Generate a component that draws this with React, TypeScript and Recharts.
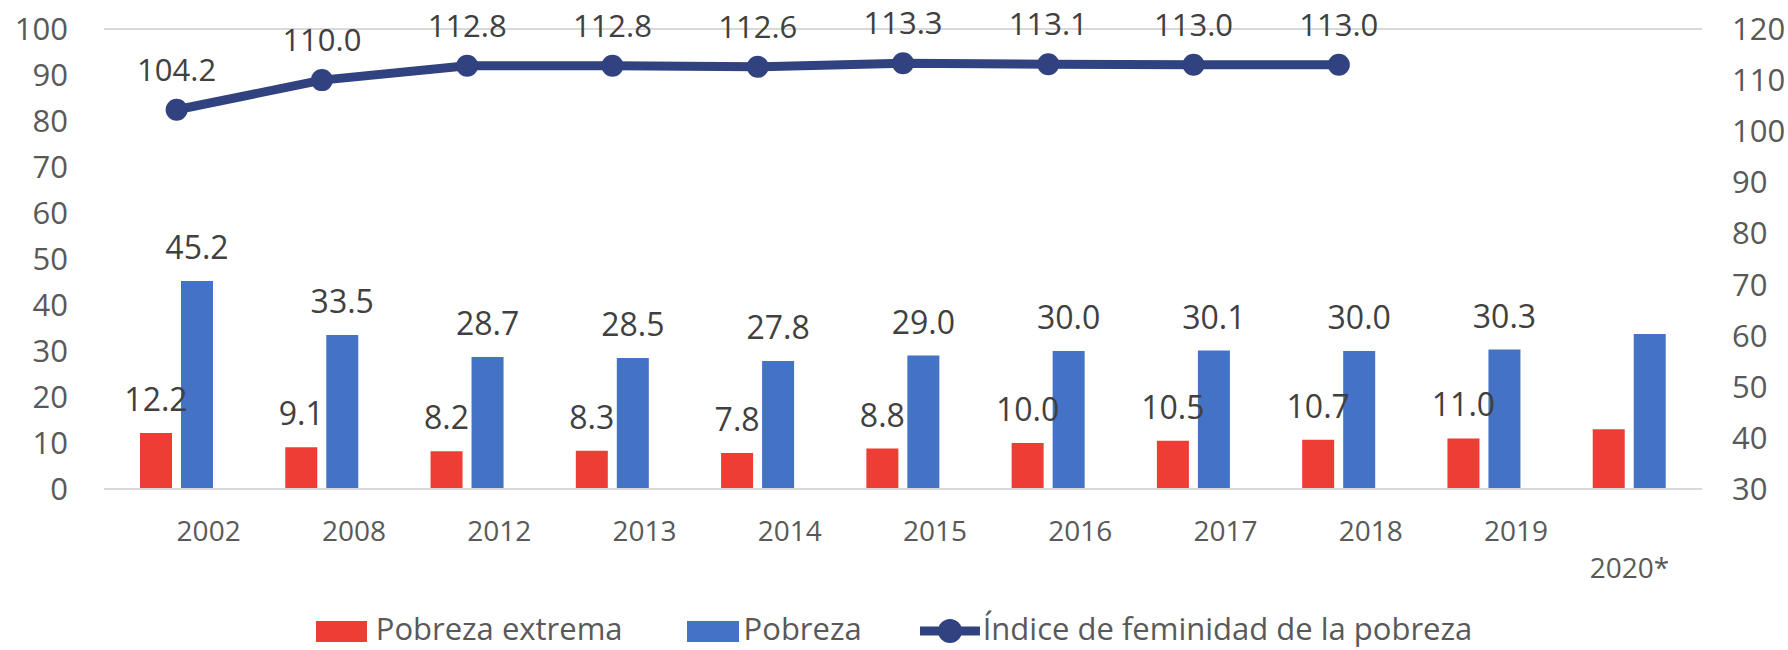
import React from 'react';
import {
  ComposedChart,
  Bar,
  Line,
  XAxis,
  YAxis,
  CartesianGrid,
  Legend,
  LabelList,
} from 'recharts';

const years = ['2002', '2008', '2012', '2013', '2014', '2015', '2016', '2017', '2018', '2019', '2020*'];
const pobrezaExtrema = [12.2, 9.1, 8.2, 8.3, 7.8, 8.8, 10.0, 10.5, 10.7, 11.0, 13.0];
const pobreza = [45.2, 33.5, 28.7, 28.5, 27.8, 29.0, 30.0, 30.1, 30.0, 30.3, 33.7];
const indiceFeminidad: (number | null)[] = [104.2, 110.0, 112.8, 112.8, 112.6, 113.3, 113.1, 113.0, 113.0, null, null];
const showBarLabels = [true, true, true, true, true, true, true, true, true, true, false];
const leftTicks = [0, 10, 20, 30, 40, 50, 60, 70, 80, 90, 100];
const rightTicks = [30, 40, 50, 60, 70, 80, 90, 100, 110, 120];

const RED = '#EE3D35';
const BLUE = '#4472C4';
const NAVY = '#30427F';
const FONT = '"Open Sans", sans-serif';

const data = years.map((year, i) => ({
  year,
  extrema: pobrezaExtrema[i],
  pobreza: pobreza[i],
  indice: indiceFeminidad[i],
  extremaLabel: showBarLabels[i] ? pobrezaExtrema[i].toFixed(1) : null,
  pobrezaLabel: showBarLabels[i] ? pobreza[i].toFixed(1) : null,
  indiceLabel: indiceFeminidad[i] == null ? null : (indiceFeminidad[i] as number).toFixed(1),
}));

const XTick = (props: any) => {
  const { x, y, payload, index } = props;
  const isLast = index === years.length - 1;
  return (
    <text
      x={x + (isLast ? 0 : 32)}
      y={y + (isLast ? 89 : 52)}
      textAnchor="middle"
      fill="#595959"
      fontSize={28}
      fontFamily={FONT}
    >
      {payload.value}
    </text>
  );
};

const LegendContent = () => (
  <div
    style={{
      display: 'flex',
      justifyContent: 'center',
      alignItems: 'center',
      width: '100%',
      height: 40,
      fontFamily: FONT,
      fontSize: 31,
      lineHeight: '40px',
      color: '#595959',
      whiteSpace: 'nowrap',
    }}
  >
    <div style={{ width: 51, height: 21, background: RED, marginRight: 9, position: 'relative', top: 3 }} />
    <span style={{ marginRight: 64 }}>Pobreza extrema</span>
    <div style={{ width: 52, height: 21, background: BLUE, marginRight: 5, position: 'relative', top: 3 }} />
    <span style={{ marginRight: 58 }}>Pobreza</span>
    <svg width={60} height={26} style={{ marginRight: 3, position: 'relative', top: 3 }}>
      <line x1={0} y1={13} x2={60} y2={13} stroke={NAVY} strokeWidth={9} />
      <circle cx={30} cy={13} r={12} fill={NAVY} />
    </svg>
    <span>Índice de feminidad de la pobreza</span>
  </div>
);

export default function App() {
  return (
    <div style={{ position: 'absolute', left: 0, top: 0, background: '#fff' }}>
      <ComposedChart
        width={1788}
        height={650}
        data={data}
        margin={{ top: 29, right: 0, bottom: 61, left: 0 }}
        barGap={9}
      >
        <CartesianGrid horizontal vertical={false} stroke="#D9D9D9" strokeWidth={2} />
        <XAxis
          dataKey="year"
          height={100}
          tickLine={false}
          axisLine={{ stroke: '#D9D9D9', strokeWidth: 2 }}
          tickSize={0}
          tickMargin={0}
          interval={0}
          tick={<XTick />}
        />
        <YAxis
          yAxisId="left"
          orientation="left"
          width={104}
          domain={[0, 100]}
          ticks={leftTicks}
          tickLine={false}
          axisLine={false}
          tickSize={0}
          tickMargin={36}
          tick={{ fill: '#595959', fontSize: 31, fontFamily: FONT }}
          interval={0}
        />
        <YAxis
          yAxisId="right"
          orientation="right"
          width={86}
          domain={[30, 120]}
          ticks={rightTicks}
          tickLine={false}
          axisLine={false}
          tickSize={0}
          tickMargin={30}
          tick={{ fill: '#595959', fontSize: 31, fontFamily: FONT, textAnchor: 'start' }}
          interval={0}
        />
        <Bar yAxisId="left" dataKey="extrema" name="Pobreza extrema" fill={RED} barSize={32} isAnimationActive={false}>
          <LabelList dataKey="extremaLabel" position="top" offset={22} fill="#404040" fontSize={32} fontFamily={FONT} />
        </Bar>
        <Bar yAxisId="left" dataKey="pobreza" name="Pobreza" fill={BLUE} barSize={32} isAnimationActive={false}>
          <LabelList dataKey="pobrezaLabel" position="top" offset={22} fill="#404040" fontSize={32} fontFamily={FONT} />
        </Bar>
        <Line
          yAxisId="right"
          dataKey="indice"
          name="Índice de feminidad de la pobreza"
          stroke={NAVY}
          strokeWidth={9}
          dot={{ r: 11, fill: NAVY, stroke: NAVY, strokeWidth: 0 }}
          activeDot={false}
          isAnimationActive={false}
        >
          <LabelList dataKey="indiceLabel" position="top" offset={29} fill="#404040" fontSize={31} fontFamily={FONT} />
        </Line>
        <Legend
          layout="horizontal"
          verticalAlign="middle"
          align="center"
          content={<LegendContent />}
          wrapperStyle={{ position: 'absolute', top: 608, left: 0, width: 1788, height: 40 }}
        />
      </ComposedChart>
    </div>
  );
}
